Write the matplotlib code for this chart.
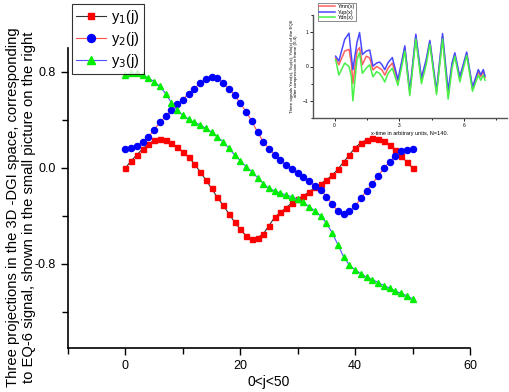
import numpy as np
import matplotlib
matplotlib.use("Agg")
import matplotlib.pyplot as plt
from matplotlib.ticker import MultipleLocator

plt.rcParams['font.family'] = ['Liberation Sans', 'DejaVu Sans']

# main chart data, j = 0..50
j = np.arange(51)
y1 = [0.00, 0.06, 0.11, 0.16, 0.20, 0.23, 0.24, 0.235, 0.21, 0.175,
      0.135, 0.09, 0.035, -0.03, -0.10, -0.17, -0.245, -0.31, -0.38, -0.45,
      -0.51, -0.565, -0.59, -0.58, -0.55, -0.48, -0.41, -0.37, -0.33, -0.29,
      -0.26, -0.23, -0.20, -0.16, -0.13, -0.10, -0.06, -0.01, 0.05, 0.11,
      0.17, 0.21, 0.235, 0.25, 0.245, 0.225, 0.19, 0.15, 0.10, 0.05, 0.00]
y2 = [0.155, 0.165, 0.18, 0.22, 0.255, 0.32, 0.38, 0.43, 0.48, 0.53,
      0.57, 0.62, 0.66, 0.71, 0.74, 0.755, 0.75, 0.71, 0.66, 0.61,
      0.54, 0.47, 0.39, 0.30, 0.22, 0.16, 0.11, 0.07, 0.025, -0.01,
      -0.045, -0.075, -0.11, -0.15, -0.18, -0.24, -0.30, -0.36, -0.385, -0.36,
      -0.32, -0.25, -0.19, -0.13, -0.07, 0.0, 0.05, 0.10, 0.14, 0.15, 0.16]
y3 = [0.775, 0.79, 0.79, 0.775, 0.75, 0.72, 0.68, 0.62, 0.545, 0.48,
      0.44, 0.405, 0.38, 0.36, 0.33, 0.30, 0.26, 0.22, 0.165, 0.11,
      0.06, 0.01, -0.03, -0.08, -0.13, -0.17, -0.19, -0.21, -0.225, -0.24,
      -0.26, -0.285, -0.325, -0.355, -0.40, -0.46, -0.54, -0.64, -0.74, -0.81,
      -0.85, -0.88, -0.91, -0.93, -0.955, -0.98, -1.00, -1.025, -1.045, -1.065, -1.09]

# small picture data (key points)
xs = [0.05, 0.2, 0.47, 0.67, 0.78, 0.85, 1.04, 1.16, 1.29, 1.47,
      1.63, 1.78, 1.95, 2.09, 2.2, 2.33, 2.48, 2.68, 2.94, 3.1,
      3.26, 3.49, 3.77, 4.03, 4.25, 4.42, 4.73, 5.01, 5.27, 5.45,
      5.58, 5.81, 6.13, 6.40, 6.67, 6.78, 6.90, 6.98]
ymn = [0.25, 0.05, 0.45, 0.50, 0.10, -0.50, 0.45, 0.55, 0.05, 0.30,
       0.25, -0.10, 0.00, -0.05, -0.10, -0.25, -0.05, 0.10, -0.43, 0.05,
       0.55, -0.78, 0.88, -0.38, 0.15, 0.72, -0.75, 0.88, -0.85, 0.05,
       0.35, -0.35, 0.38, -0.65, -0.15, -0.30, -0.15, -0.32]
yup = [0.30, 0.16, 0.79, 0.97, 0.30, -0.09, 0.70, 0.99, 0.35, 0.45,
       0.48, 0.01, 0.10, 0.13, 0.05, -0.09, 0.11, 0.26, -0.38, 0.10,
       0.60, -0.72, 0.94, -0.33, 0.20, 0.76, -0.70, 0.96, -0.70, 0.10,
       0.40, -0.30, 0.42, -0.60, -0.09, -0.24, -0.09, -0.28]
ydn = [0.20, -0.25, 0.10, 0.00, -0.30, -1.00, 0.20, 0.40, -0.20, -0.05,
       0.05, -0.30, -0.15, -0.20, -0.30, -0.45, -0.20, -0.05, -0.55, -0.05,
       0.45, -0.85, 0.80, -0.50, 0.05, 0.65, -0.82, 0.80, -0.95, -0.05,
       0.30, -0.45, 0.32, -0.72, -0.25, -0.40, -0.25, -0.40]

W, H = 510, 392
fig = plt.figure(figsize=(W / 100, H / 100), dpi=100)
ax = fig.add_axes([68 / W, 1 - 348 / H, (470 - 68) / W, (348 - 48) / H])

ax.plot(j, y1, color='#333333', lw=0.8, marker='s', ms=3.6, mfc='red', mec='red', label='y$_1$(j)')
ax.plot(j, y2, color='#ff5050', lw=0.8, marker='o', ms=4.4, mfc='blue', mec='blue', label='y$_2$(j)')
ax.plot(j, y3, color='#5050ff', lw=0.8, marker='^', ms=4.8, mfc='#00ee00', mec='#00ee00', label='y$_3$(j)')

ax.set_xlim(-10, 60)
ax.set_ylim(-1.5, 1.0)
ax.set_xticks([0, 20, 40, 60])
ax.set_yticks([-0.8, 0.0, 0.8])
ax.set_yticklabels(['-0.8', '0.0', '0.8'])
ax.xaxis.set_minor_locator(MultipleLocator(10))
ax.yaxis.set_minor_locator(MultipleLocator(0.4))
ax.tick_params(which='major', direction='out', length=5, width=1, labelsize=9)
ax.tick_params(which='minor', direction='out', length=4, width=1)
for s in ['top', 'right']:
    ax.spines[s].set_visible(False)
for s in ['left', 'bottom']:
    ax.spines[s].set_linewidth(1.2)

ax.set_xlabel('0<j<50', fontsize=10, labelpad=2)
ax.set_ylabel('Three projections in the 3D -DGI space, corresponding\n'
              'to EQ-6 signal, shown in the small picture on the right',
              fontsize=10.6, linespacing=1.15)
ax.yaxis.set_label_coords(-0.08, 0.47)

leg = ax.legend(loc='upper left', bbox_to_anchor=(72 / W, 1 - 4 / H),
                bbox_transform=fig.transFigure, borderaxespad=0,
                fancybox=False, edgecolor='black', fontsize=10.5,
                handlelength=2.0, labelspacing=0.25, borderpad=0.3, handletextpad=0.4,
                markerscale=1.3)
leg.get_frame().set_linewidth(0.8)

# small picture in the upper right
ins = fig.add_axes([313 / W, 1 - 118 / H, (507 - 313) / W, (118 - 15) / H])
ins.plot(xs, ymn, color='#ff6060', lw=1.1, label='Ymn(x)')
ins.plot(xs, yup, color='#4848ff', lw=1.1, label='Yup(x)')
ins.plot(xs, ydn, color='#48f048', lw=1.1, label='Ydn(x)')
ins.set_xlim(-1, 8)
ins.set_ylim(-1.5, 1.5)
ins.set_xticks([0, 3, 6])
ins.set_yticks([-1, 0, 1])
ins.xaxis.set_minor_locator(MultipleLocator(1.5))
ins.yaxis.set_minor_locator(MultipleLocator(0.5))
ins.tick_params(which='major', direction='out', length=2, width=0.6, labelsize=3.5, pad=1.5)
ins.tick_params(which='minor', direction='out', length=1.2, width=0.6)
for s in ['top', 'right']:
    ins.spines[s].set_visible(False)
for s in ['left', 'bottom']:
    ins.spines[s].set_linewidth(1.0)
    ins.spines[s].set_color('#555555')
ins.patch.set_alpha(0)
ins.set_xlabel('x-time in arbitrary units, N=140.', fontsize=4, labelpad=2)
ins.set_ylabel('Three signals Ymn(x), Yup(x), Ydn(x) of the EQ6\n'
               'after compression in frame (0,4)', fontsize=3.2, labelpad=3)
ileg = ins.legend(loc='upper left', bbox_to_anchor=(318 / W, 1 - 3 / H),
                  bbox_transform=fig.transFigure, borderaxespad=0,
                  fancybox=False, edgecolor='#555555', fontsize=3.8,
                  handlelength=3.0, labelspacing=0.1, borderpad=0.2, handletextpad=0.5)
ileg.get_frame().set_linewidth(0.6)

fig.savefig('out.png', dpi=100)
